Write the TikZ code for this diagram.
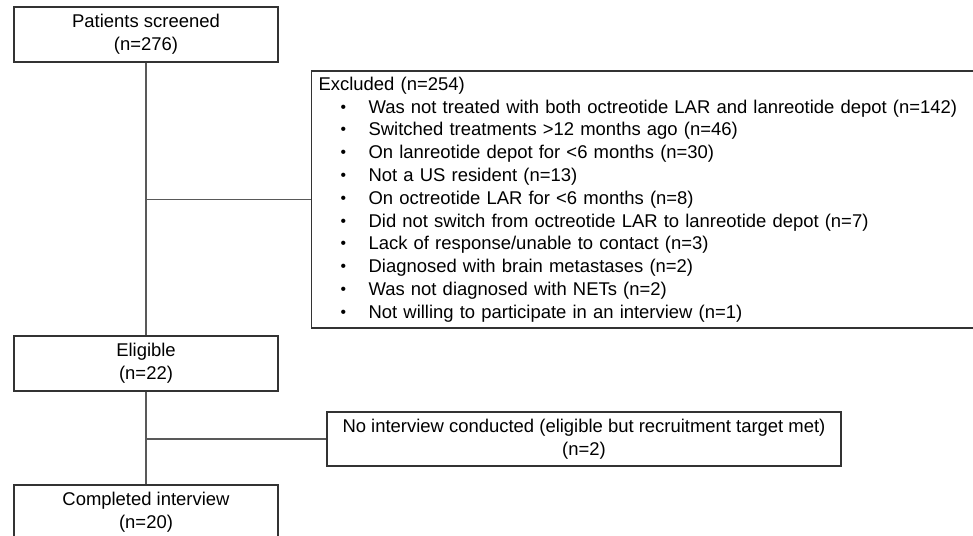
\documentclass[tikz,border=0pt]{standalone}
\usepackage{fontspec}
\setmainfont{Liberation Sans}
\usepackage{graphicx}
\usetikzlibrary{positioning}
\newcommand{\exclitem}[1]{\hspace*{0.44cm}\makebox[0.56cm][l]{\raisebox{0.1ex}{\scalebox{0.85}{\textbullet}}}#1}
\begin{document}
\begin{tikzpicture}[x=0.02cm,y=-0.02cm,
  font=\fontsize{10.5}{12.98}\selectfont,
  box/.style={draw=black!80, line width=0.7pt, align=center, inner sep=0pt},
  link/.style={draw=black!65, line width=0.7pt}]
\useasboundingbox (0,0) rectangle (973,536);
\def\cx{146}
% columna principal
\node[box, minimum width=5.28cm, minimum height=1.1cm] (screened) at (\cx,34.5) {Patients screened\\(n=276)};
\node[box, minimum width=5.28cm, minimum height=1.1cm] (eligible) at (\cx,363.5) {Eligible\\(n=22)};
\node[box, minimum width=5.28cm, minimum height=1.1cm] (completed) at (\cx,512.5) {Completed interview\\(n=20)};
% cajas laterales
\node[box, anchor=west, align=left, inner xsep=0.14cm, text width=13.0cm, minimum height=5.14cm] (excluded) at (311,199.5) {Excluded (n=254)\\
  \exclitem{Was not treated with both octreotide LAR and lanreotide depot (n=142)}\\
  \exclitem{Switched treatments >12 months ago (n=46)}\\
  \exclitem{On lanreotide depot for <6 months (n=30)}\\
  \exclitem{Not a US resident (n=13)}\\
  \exclitem{On octreotide LAR for <6 months (n=8)}\\
  \exclitem{Did not switch from octreotide LAR to lanreotide depot (n=7)}\\
  \exclitem{Lack of response/unable to contact (n=3)}\\
  \exclitem{Diagnosed with brain metastases (n=2)}\\
  \exclitem{Was not diagnosed with NETs (n=2)}\\
  \exclitem{Not willing to participate in an interview (n=1)}};
\node[box, minimum width=10.28cm, minimum height=1.08cm] (nointerview) at (584,439) {No interview conducted (eligible but recruitment target met)\\(n=2)};
\coordinate (jexcl) at (screened.south |- excluded.west);
\coordinate (jnone) at (eligible.south |- nointerview.west);
\draw[link] (screened.south) -- (eligible.north);
\draw[link] (eligible.south) -- (completed.north);
\draw[link] (jexcl) -- (excluded.west);
\draw[link] (jnone) -- (nointerview.west);
\end{tikzpicture}
\end{document}
